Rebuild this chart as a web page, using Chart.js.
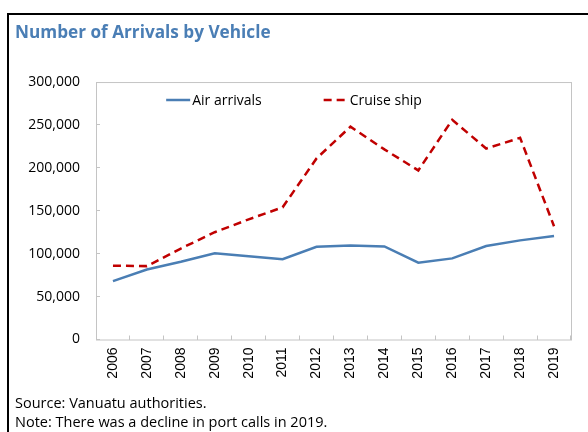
<!DOCTYPE html>
<html>
<head>
<meta charset="utf-8">
<title>Number of Arrivals by Vehicle</title>
<script src="https://cdn.jsdelivr.net/npm/chart.js@4"></script>
<style>
  html, body { margin: 0; padding: 0; background: #fff; }
  #wrap { position: relative; width: 588px; height: 432px; }
</style>
</head>
<body>
<div id="wrap"><canvas id="arrivalsChart" width="588" height="432"></canvas></div>
<script>
/* Arrivals by vehicle, air vs cruise ship */

const years = ["2006", "2007", "2008", "2009", "2010", "2011", "2012",
  "2013", "2014", "2015", "2016", "2017", "2018", "2019"];
const airArrivals = [68000, 81500, 90500, 100500, 97000, 93500, 108000,
  109500, 108500, 89500, 94500, 109000, 115500, 120500];
const cruiseShip = [86000, 85500, 106000, 125000, 140000, 154000, 211000,
  248000, 221500, 197000, 256000, 222500, 235000, 132000];
const yTicks = [0, 50000, 100000, 150000, 200000, 250000, 300000];
const footnotes = [
  "Source: Vanuatu authorities.",
  "Note: There was a decline in port calls in 2019.",
];

const BLUE = "#4a7eb4";
const RED = "#c00000";
const AXIS_GRAY = "#c4c4c4";
const FONT = "'Open Sans', 'Noto Sans', sans-serif";

// grey box round the plot area
const plotBorder = {
  id: "plotBorder",
  beforeDatasetsDraw(chart) {
    const { ctx, chartArea: a } = chart;
    ctx.save();
    ctx.strokeStyle = AXIS_GRAY;
    ctx.lineWidth = 1;
    ctx.strokeRect(a.left + 0.5, a.top + 0.5, a.right - a.left, a.bottom - a.top);
    ctx.restore();
  },
};

// line-sample legend sitting inside the plot, near the top
const innerLegend = {
  id: "innerLegend",
  afterDatasetsDraw(chart) {
    const { ctx } = chart;
    const sample = 24;
    const gap = 2;
    const spacing = 62;
    const y = 100;
    ctx.save();
    ctx.font = "14px " + FONT;
    ctx.textBaseline = "middle";
    const items = chart.data.datasets.map((ds) => ({
      ds,
      w: sample + gap + ctx.measureText(ds.label).width,
    }));
    const total = items.reduce((s, it) => s + it.w, 0) + spacing * (items.length - 1);
    let x = chart.width / 2 - total / 2;
    items.forEach(({ ds, w }) => {
      ctx.strokeStyle = ds.borderColor;
      ctx.lineWidth = ds.borderWidth;
      ctx.setLineDash(ds.borderDash || []);
      ctx.beginPath();
      ctx.moveTo(x, y);
      ctx.lineTo(x + sample, y);
      ctx.stroke();
      ctx.setLineDash([]);
      ctx.fillStyle = "#000";
      ctx.fillText(ds.label, x + sample + gap, y + 1);
      x += w + spacing;
    });
    ctx.restore();
  },
};

// black frame lines along the top and left edge
const frame = {
  id: "frame",
  afterDraw(chart) {
    const { ctx } = chart;
    ctx.save();
    ctx.strokeStyle = "#000";
    ctx.lineWidth = 2;
    ctx.beginPath();
    ctx.moveTo(8, chart.height);
    ctx.lineTo(8, 14);
    ctx.lineTo(chart.width, 14);
    ctx.stroke();
    ctx.restore();
  },
};

const ctx = document.getElementById("arrivalsChart").getContext("2d");

new Chart(ctx, {
  type: "line",
  data: {
    labels: years,
    datasets: [
      {
        label: "Air arrivals",
        data: airArrivals,
        borderColor: BLUE,
        backgroundColor: BLUE,
        borderWidth: 2.5,
        pointRadius: 0,
        tension: 0,
      },
      {
        label: "Cruise ship",
        data: cruiseShip,
        borderColor: RED,
        backgroundColor: RED,
        borderWidth: 2.5,
        borderDash: [8, 5],
        pointRadius: 0,
        tension: 0,
      },
    ],
  },
  options: {
    responsive: false,
    animation: false,
    layout: { padding: { left: 15, right: 17, top: 0, bottom: 0 } },
    plugins: {
      legend: { display: false },
      tooltip: { enabled: false },
      title: {
        display: true,
        text: "Number of Arrivals by Vehicle",
        align: "start",
        color: "#4a7eb5",
        font: { family: FONT, size: 17.2, weight: "bold", lineHeight: 1.2 },
        padding: { top: 23, bottom: 38.4 },
      },
      subtitle: {
        display: true,
        position: "bottom",
        align: "start",
        text: footnotes,
        color: "#000",
        font: { family: FONT, size: 14.5, lineHeight: "19px" },
        padding: { top: 15.5, bottom: 0 },
      },
    },
    scales: {
      x: {
        offset: true,
        border: { display: false },
        grid: {
          offset: true,
          drawOnChartArea: false,
          color: AXIS_GRAY,
          tickLength: -4,
        },
        afterFit(scale) {
          scale.height = 39;
        },
        ticks: {
          minRotation: 90,
          maxRotation: 90,
          padding: 12,
          color: "#000",
          font: { family: "'Liberation Sans', Arial, sans-serif", size: 14 },
        },
      },
      y: {
        min: 0,
        max: 300000,
        border: { display: false },
        grid: {
          drawOnChartArea: false,
          color: AXIS_GRAY,
          tickLength: -4,
        },
        afterBuildTicks(scale) {
          scale.ticks = yTicks.map((v) => ({ value: v }));
        },
        afterFit(scale) {
          scale.width = 81;
        },
        ticks: {
          padding: 20,
          color: "#000",
          font: { family: FONT, size: 14 },
          callback: (v) => v.toLocaleString("en-US"),
        },
      },
    },
  },
  plugins: [plotBorder, innerLegend, frame],
});
</script>
</body>
</html>
